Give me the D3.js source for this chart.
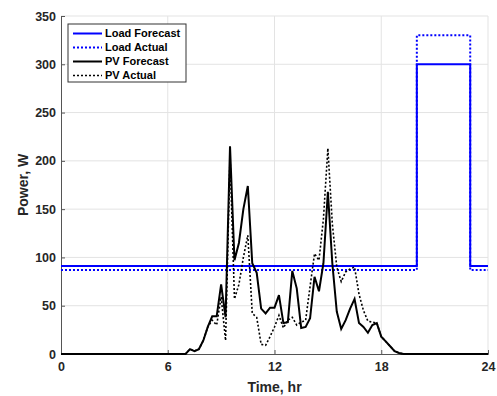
<!DOCTYPE html>
<html>
<head>
<meta charset="utf-8">
<script src="https://cdn.jsdelivr.net/npm/d3@7"></script>
<style>
  body { margin: 0; background: #fff; }
  text { font-family: "Liberation Sans", Arial, sans-serif; font-weight: bold; }
</style>
</head>
<body>
<div id="chart"></div>
<script>
// Load profile (step changes, hours)
const loadHours = [0, 20, 23, 24];
const loadForecast = [91, 300, 91, 91];
const loadActual = [87, 330, 87, 87];

// PV profile, quarter-hour points
const pvHours = [0, 7, 7.25, 7.5, 7.75, 8, 8.25, 8.5, 8.75, 9, 9.25, 9.5, 9.75, 10, 10.25, 10.5,
  10.75, 11, 11.25, 11.5, 11.75, 12, 12.25, 12.5, 12.75, 13, 13.25, 13.5, 13.75, 14, 14.25,
  14.5, 14.75, 15, 15.25, 15.5, 15.75, 16, 16.25, 16.5, 16.75, 17, 17.25, 17.5, 17.75, 18,
  18.25, 18.5, 18.75, 19, 19.25, 24];
const pvForecast = [0, 0, 5, 3, 5, 14, 28, 39, 39, 72, 38, 215, 97, 115, 150, 174,
  94, 84, 47, 42, 48, 48, 61, 32, 33, 86, 68, 27, 28, 37, 80,
  65, 94, 168, 94, 44, 26, 35, 47, 57, 32, 28, 22, 30, 32, 18,
  13, 8, 3, 1, 0, 0];
const pvActual = [0, 0, 5, 3, 5, 14, 28, 35, 30, 59, 14, 205, 57, 72, 100, 123,
  42, 38, 10, 9, 18, 28, 40, 27, 35, 38, 30, 33, 35, 70, 104,
  97, 140, 213, 135, 90, 75, 85, 88, 90, 62, 45, 34, 33, 32, 18,
  13, 8, 3, 1, 0, 0];

const xTicks = [0, 6, 12, 18, 24];
const yTicks = [0, 50, 100, 150, 200, 250, 300, 350];

const margin = { top: 16, right: 9, bottom: 42, left: 61 };
const width = 497 - margin.left - margin.right;
const height = 396 - margin.top - margin.bottom;

const svg = d3.select('#chart')
  .append('svg')
  .attr('width', 497)
  .attr('height', 396)
  .append('g')
  .attr('transform', `translate(${margin.left},${margin.top})`);

const x = d3.scaleLinear().domain([0, 24]).range([0, width]);
const y = d3.scaleLinear().domain([0, 350]).range([height, 0]);

// grid
svg.append('g').selectAll('line.gx')
  .data(xTicks.slice(1))
  .join('line')
  .attr('x1', d => x(d)).attr('x2', d => x(d))
  .attr('y1', 0).attr('y2', height)
  .attr('stroke', '#e3e3e3').attr('stroke-width', 1);
svg.append('g').selectAll('line.gy')
  .data(yTicks.slice(1))
  .join('line')
  .attr('x1', 0).attr('x2', width)
  .attr('y1', d => y(d)).attr('y2', d => y(d))
  .attr('stroke', '#e3e3e3').attr('stroke-width', 1);

// axes
const xAxis = d3.axisBottom(x).tickValues(xTicks).tickSize(-4).tickPadding(8);
const yAxis = d3.axisLeft(y).tickValues(yTicks).tickSize(-4).tickPadding(5);

const gx = svg.append('g')
  .attr('transform', `translate(0,${height})`)
  .call(xAxis);
const gy = svg.append('g').call(yAxis);

[gx, gy].forEach(g => {
  g.select('.domain').attr('stroke', '#555').attr('stroke-width', 1);
  g.selectAll('.tick line').attr('stroke', '#555');
  g.selectAll('.tick text')
    .attr('fill', '#262626')
    .style('font-size', '12.5px');
});

// lines
const stepLine = d3.line()
  .x(d => x(d[0]))
  .y(d => y(d[1]))
  .curve(d3.curveStepAfter);
const pvLine = d3.line()
  .x(d => x(d[0]))
  .y(d => y(d[1]));

const series = [
  { name: 'Load Forecast', pts: d3.zip(loadHours, loadForecast), gen: stepLine, color: '#0000ff', dash: null, w: 2 },
  { name: 'Load Actual', pts: d3.zip(loadHours, loadActual), gen: stepLine, color: '#0000ff', dash: '2,2', w: 2 },
  { name: 'PV Forecast', pts: d3.zip(pvHours, pvForecast), gen: pvLine, color: '#000', dash: null, w: 2 },
  { name: 'PV Actual', pts: d3.zip(pvHours, pvActual), gen: pvLine, color: '#000', dash: '2,2', w: 1.6 }
];

svg.selectAll('path.series')
  .data(series)
  .join('path')
  .attr('class', 'series')
  .attr('fill', 'none')
  .attr('stroke', d => d.color)
  .attr('stroke-width', d => d.w)
  .attr('stroke-dasharray', d => d.dash)
  .attr('d', d => d.gen(d.pts));

// axis labels
svg.append('text')
  .attr('x', width / 2)
  .attr('y', height + 38)
  .attr('text-anchor', 'middle')
  .style('font-size', '14px')
  .attr('fill', '#262626')
  .text('Time, hr');

svg.append('text')
  .attr('transform', 'rotate(-90)')
  .attr('x', -height / 2)
  .attr('y', -33)
  .attr('text-anchor', 'middle')
  .style('font-size', '14px')
  .attr('fill', '#262626')
  .text('Power, W');

// legend
const legend = svg.append('g').attr('transform', 'translate(7,8)');
legend.append('rect')
  .attr('width', 118)
  .attr('height', 58)
  .attr('fill', '#fff')
  .attr('stroke', '#333')
  .attr('stroke-width', 1);

const item = legend.selectAll('.region-legend')
  .data(series)
  .join('g')
  .attr('class', 'region-legend')
  .attr('transform', (d, i) => `translate(0,${9.5 + i * 14})`);

item.append('line')
  .attr('x1', 5).attr('x2', 34)
  .attr('stroke', d => d.color)
  .attr('stroke-width', d => d.w)
  .attr('stroke-dasharray', d => d.dash);

item.append('text')
  .attr('x', 37)
  .attr('dy', '0.35em')
  .style('font-size', '11px')
  .attr('fill', '#000')
  .text(d => d.name);
</script>
</body>
</html>
